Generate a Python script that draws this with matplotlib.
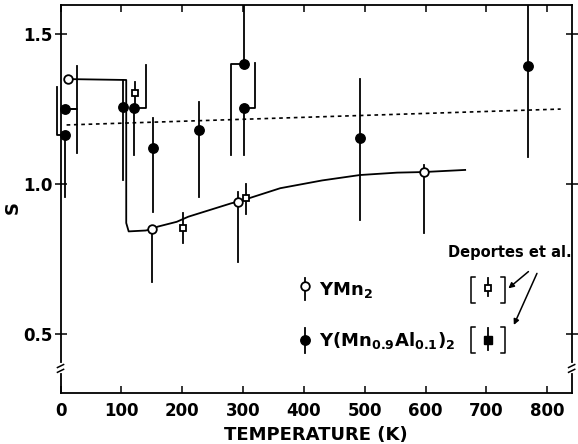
import matplotlib
matplotlib.use("Agg")
import matplotlib.pyplot as plt
import matplotlib.transforms as mtransforms

plt.rcParams["font.family"] = ["DejaVu Sans"]
plt.rcParams["mathtext.fontset"] = "dejavusans"

# Y(Mn0.9Al0.1)2, filled circles: T (K), S, error bar ends, sideways shift of each half-bar (K)
al_T = [8, 7, 102, 121, 152, 227, 302, 302, 493, 768]
al_S = [1.25, 1.163, 1.256, 1.253, 1.121, 1.18, 1.399, 1.252, 1.152, 1.394]
al_lo = [1.103, 0.957, 1.013, 1.097, 0.907, 0.958, 1.097, 1.097, 0.88, 1.091]
al_hi = [1.393, 1.323, 1.347, 1.397, 1.22, 1.274, 1.65, 1.402, 1.35, 1.65]
al_dlo = [19, 0, 0, 0, 0, 0, -22, 0, 0, 0]
al_dhi = [19, -12, 0, 19, 0, 0, 0, 18, 0, 0]

# YMn2, open circles
ym_T = [12, 151, 292, 597]
ym_S = [1.35, 0.85, 0.941, 1.039]
ym_lo = [1.35, 0.674, 0.741, 0.836]
ym_hi = [1.35, 0.85, 0.972, 1.063]

# Deportes et al. (YMn2), open squares
dp_T = [122.5, 201, 305]
dp_S = [1.302, 0.852, 0.955]
dp_lo = [1.27, 0.804, 0.90]
dp_hi = [1.341, 0.902, 1.0]

# guide line through the YMn2 points
guide_T = [12, 108, 108, 112, 140, 151, 160, 191, 210, 281, 292, 361, 430, 492, 553, 597, 665]
guide_S = [1.35, 1.347, 0.87, 0.842, 0.845, 0.85, 0.858, 0.874, 0.891, 0.936, 0.941,
           0.986, 1.012, 1.03, 1.038, 1.04, 1.047]

# dotted line for the Al-doped compound
dot_T = [10, 822]
dot_S = [1.197, 1.25]

x_ticks = [0, 100, 200, 300, 400, 500, 600, 700, 800]
y_ticks = [0.5, 1.0, 1.5]

LW = 1.3
fig = plt.figure(figsize=(5.78, 4.44), dpi=100)
ax = fig.add_axes([0.1047, 0.1155, 0.8843, 0.8732])
ax.set_xlim(0, 840)
ax.set_ylim(0.304, 1.597)

ax.plot(guide_T, guide_S, "-", color="k", lw=LW, zorder=2)
ax.plot(dot_T, dot_S, color="k", lw=1.2, linestyle=(0, (2.2, 2.2)), zorder=2)

# error bars, some halves drawn shifted sideways with a stub back to the point
for t, s, lo, hi, dlo, dhi in zip(al_T, al_S, al_lo, al_hi, al_dlo, al_dhi):
    for end, d in ((lo, dlo), (hi, dhi)):
        if d:
            ax.plot([t, t + d, t + d], [s, s, end], "-", color="k", lw=LW, zorder=3,
                    clip_on=False)
        else:
            ax.plot([t, t], [s, end], "-", color="k", lw=LW, zorder=3)
for t, lo, hi in zip(ym_T + dp_T, ym_lo + dp_lo, ym_hi + dp_hi):
    ax.plot([t, t], [lo, hi], "-", color="k", lw=LW, zorder=3)

ax.plot(al_T, al_S, "o", ms=6.8, mfc="k", mec="k", zorder=4, clip_on=False)
ax.plot(ym_T, ym_S, "o", ms=6.2, mfc="white", mec="k", mew=1.3, zorder=4)
ax.plot(dp_T, dp_S, "s", ms=4.6, mfc="white", mec="k", mew=1.3, zorder=4)

# legend drawn by hand
ax.plot([401, 401], [0.613, 0.687], color="k", lw=LW)
ax.plot(401, 0.66, "o", ms=6.2, mfc="white", mec="k", mew=1.3)
ax.plot([401, 401], [0.437, 0.52], color="k", lw=LW)
ax.plot(401, 0.48, "o", ms=6.8, mfc="k", mec="k")
txt = dict(fontsize=13, fontweight="bold", va="center", ha="left")
ax.text(425, 0.645, r"YMn$_\mathbf{2}$", **txt)
ax.text(425, 0.478, r"Y(Mn$_\mathbf{0.9}$Al$_\mathbf{0.1}$)$_\mathbf{2}$", **txt)

# square brackets around the Deportes et al. symbols
for lo, hi in ((0.602, 0.691), (0.436, 0.524)):
    ax.plot([681, 675, 675, 681], [hi, hi, lo, lo], color="k", lw=1.1)
    ax.plot([724, 730, 730, 724], [hi, hi, lo, lo], color="k", lw=1.1)
ax.plot([702, 702], [0.625, 0.685], color="k", lw=LW)
ax.plot(702, 0.652, "s", ms=4.6, mfc="white", mec="k", mew=1.3)
ax.plot([702, 702], [0.445, 0.52], color="k", lw=LW)
ax.plot(702, 0.48, "s", ms=5.2, mfc="k", mec="k")
ax.text(738, 0.772, "Deportes et al.", fontsize=10.5, fontweight="bold",
        ha="center", va="center")
arrow = dict(arrowstyle="-|>", lw=1.1, color="k", mutation_scale=8, shrinkA=0, shrinkB=0)
ax.annotate("", xy=(736, 0.652), xytext=(769, 0.708), arrowprops=arrow)
ax.annotate("", xy=(745, 0.53), xytext=(783, 0.702), arrowprops=arrow)

# axis breaks on both vertical spines
trans = mtransforms.blended_transform_factory(ax.transAxes, ax.transData)
for xa in (0, 1):
    ax.plot([xa, xa], [0.376, 0.398], color="white", lw=3, transform=trans,
            clip_on=False, zorder=5)
    for s0 in (0.376, 0.392):
        ax.plot([xa - 0.006, xa + 0.006], [s0 - 0.004, s0 + 0.006], color="k",
                lw=1.1, transform=trans, clip_on=False, zorder=6)

ax.set_xticks(x_ticks)
ax.set_yticks(y_ticks)
ax.set_yticklabels(["0.5", "1.0", "1.5"])
ax.tick_params(axis="x", direction="in", length=5, width=1.1, top=True,
               labelsize=12, pad=7)
ax.tick_params(axis="y", direction="inout", length=8, width=1.1, labelsize=12, pad=2)
ax.tick_params(axis="y", which="major", right=True)
for lab in ax.get_xticklabels() + ax.get_yticklabels():
    lab.set_fontweight("bold")
for sp in ax.spines.values():
    sp.set_linewidth(1.3)

ax.set_xlabel("TEMPERATURE (K)", fontsize=13, fontweight="bold", labelpad=4)
ax.set_ylabel("S", fontsize=13, fontweight="bold")
ax.yaxis.set_label_coords(-0.075, 0.477)

fig.savefig("out.png", dpi=100)
